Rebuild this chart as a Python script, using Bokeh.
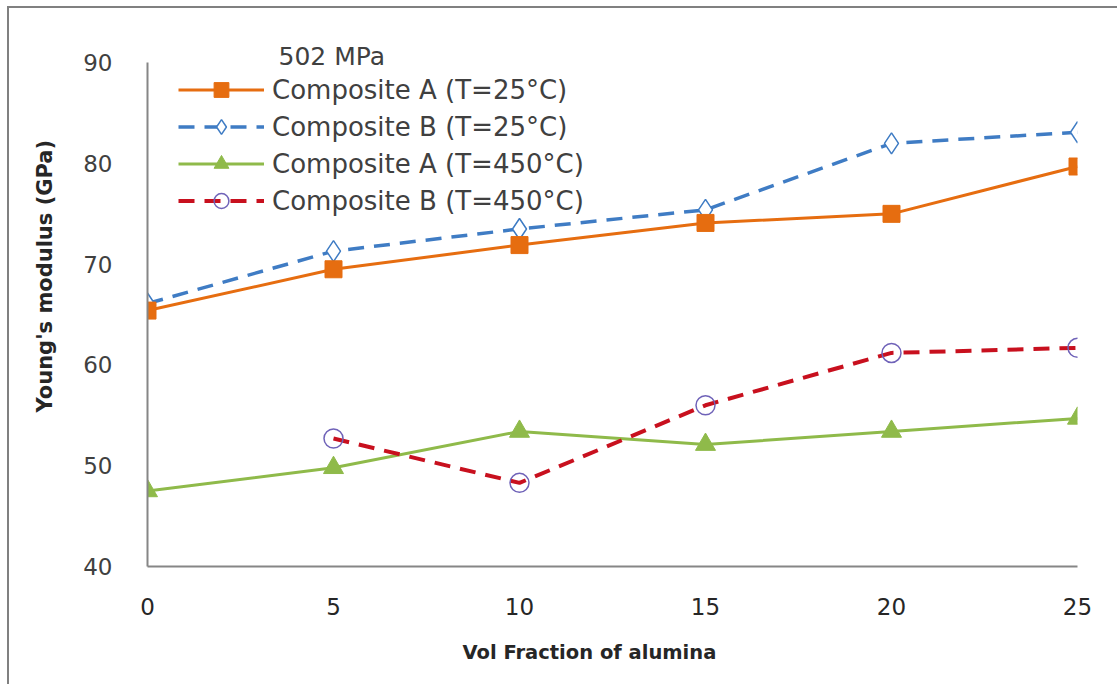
import numpy as np
from bokeh.plotting import figure
from bokeh.models import Legend, LegendItem, Label, FixedTicker, Title
from bokeh.embed import file_html
from bokeh.resources import INLINE

# Young's modulus (GPa) against alumina volume fraction (%)
vol_fraction = [0, 5, 10, 15, 20, 25]
comp_a_25 = [65.4, 69.5, 71.9, 74.1, 75.0, 79.7]
comp_b_25 = [66.1, 71.3, 73.5, 75.4, 82.0, 83.1]
comp_a_450 = [47.5, 49.8, 53.4, 52.1, 53.4, 54.7]
comp_b_450 = [np.nan, 52.7, 48.3, 56.0, 61.2, 61.7]

x_ticks = [0, 5, 10, 15, 20, 25]
y_ticks = [40, 50, 60, 70, 80, 90]

series_labels = [
    "Composite A (T=25°C)",
    "Composite B (T=25°C)",
    "Composite A (T=450°C)",
    "Composite B (T=450°C)",
]
legend_title = "502 MPa"
x_title = "Vol Fraction  of alumina"
y_title = "Young's modulus (GPa)"

FONT = "DejaVu Sans"
AXIS_GREY = "#868686"

# the frame reaches a little above 90 so the legend heading fits inside it;
# the y axis line itself stops at 90
p = figure(
    width=1110, height=678,
    x_range=(0, 25), y_range=(40, 93),
    output_backend="svg", toolbar_location=None,
    min_border_left=138, min_border_right=42,
    min_border_top=24, min_border_bottom=120,
)
p.styles = {
    "margin-left": "7px",
    "margin-top": "6px",
    "border-left": "2px solid #808080",
    "border-top": "2px solid #808080",
}
p.outline_line_color = None
p.background_fill_color = "white"
p.border_fill_color = "white"
p.xgrid.visible = False
p.ygrid.visible = False

for ax in (p.xaxis[0], p.yaxis[0]):
    ax.axis_line_color = AXIS_GREY
    ax.axis_line_width = 2
    ax.major_tick_line_color = None
    ax.minor_tick_line_color = None
    ax.major_label_text_font = FONT

p.xaxis[0].ticker = FixedTicker(ticks=x_ticks)
p.yaxis[0].ticker = FixedTicker(ticks=y_ticks)
p.yaxis[0].bounds = (40, 90)
p.xaxis[0].major_label_text_font_size = "23px"
p.xaxis[0].major_label_text_color = "#262626"
p.xaxis[0].major_label_standoff = 25
p.yaxis[0].major_label_text_font_size = "23px"
p.yaxis[0].major_label_text_color = "#404040"
p.yaxis[0].major_label_standoff = 29

# series lines
b25_line = p.line(vol_fraction, comp_b_25, line_color="#3f7cc4", line_width=3.5,
                  line_dash="16 10")
a25_line = p.line(vol_fraction, comp_a_25, line_color="#e66d10", line_width=3)
a450_line = p.line(vol_fraction, comp_a_450, line_color="#8fba4a", line_width=3)
b450_line = p.line(vol_fraction, comp_b_450, line_color="#c8101e", line_width=4,
                   line_dash="16 10")

# series markers
b25_pts = p.scatter(vol_fraction, comp_b_25, marker="diamond", size=21,
                    fill_color="white", line_color="#3f7cc4", line_width=1.5)
a25_pts = p.scatter(vol_fraction, comp_a_25, marker="square", size=17,
                    fill_color="#e66d10", line_color="#e66d10")
a450_pts = p.scatter(vol_fraction, comp_a_450, marker="triangle", size=20,
                     fill_color="#8fba4a", line_color="#8fba4a")
b450_pts = p.scatter(vol_fraction, comp_b_450, marker="circle", size=19,
                     fill_alpha=0, line_color="#6f62b8", line_width=1.5)

legend = Legend(
    items=[
        LegendItem(label=series_labels[0], renderers=[a25_line, a25_pts]),
        LegendItem(label=series_labels[1], renderers=[b25_line, b25_pts]),
        LegendItem(label=series_labels[2], renderers=[a450_line, a450_pts]),
        LegendItem(label=series_labels[3], renderers=[b450_line, b450_pts]),
    ],
    location=(31, 347),
    orientation="vertical",
    glyph_width=86, glyph_height=37, label_height=37,
    spacing=0, padding=0, margin=0, label_standoff=8,
    label_text_font=FONT, label_text_font_size="26px",
    label_text_color="#404040",
    background_fill_alpha=0, border_line_color=None,
)
p.add_layout(legend, "center")

p.add_layout(Label(
    x=131, y=510, x_units="screen", y_units="screen",
    text=legend_title, text_font=FONT, text_font_size="25px",
    text_color="#404040", text_baseline="middle", text_align="left",
))

# axis titles, offset along their sides
p.add_layout(Title(
    text=x_title, align="left", offset=315, standoff=42,
    text_font=FONT, text_font_size="19.5px", text_font_style="bold",
    text_color="#262626",
), "below")
p.add_layout(Title(
    text=y_title, align="left", offset=154, standoff=44,
    vertical_align="top",
    text_font=FONT, text_font_size="21px", text_font_style="bold",
    text_color="#262626",
), "left")

open("out.html", "w").write(file_html(p, INLINE))
